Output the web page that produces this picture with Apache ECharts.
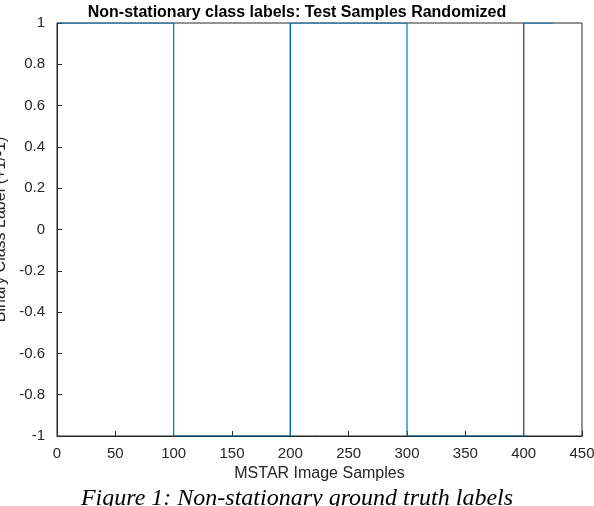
<!DOCTYPE html>
<html><head><meta charset="utf-8">
<script src="https://cdn.jsdelivr.net/npm/echarts@6/dist/echarts.min.js"></script>
<style>html,body{margin:0;background:#fff}#c{width:594px;height:506px}</style>
</head><body><div id="c"></div>
<script>
// square-wave label sequence (sample index, label)
var labelPoints = [[0, 1], [100, 1], [100, -1], [200, -1], [200, 1], [300, 1], [300, -1], [400, -1], [400, 1], [425, 1]];
var blackEdges = [[200, -1], [200, 1], null, [400, -1], [400, 1]];
var xTicks = [0, 50, 100, 150, 200, 250, 300, 350, 400, 450];
var yTicks = [-1, -0.8, -0.6, -0.4, -0.2, 0, 0.2, 0.4, 0.6, 0.8, 1];

var chart = echarts.init(document.getElementById('c'));
var axisText = { color: '#262626', fontSize: 15, fontFamily: 'Liberation Sans' };
chart.setOption({
  animation: false,
  title: {
    text: 'Non-stationary class labels: Test Samples Randomized',
    left: 'center', top: 0,
    textStyle: { fontSize: 16, fontWeight: 'bold', color: '#000', fontFamily: 'Liberation Sans' }
  },
  grid: { left: 57, right: 12, top: 23, bottom: 70, containLabel: false, outerBoundsMode: 'none',
    show: true, borderColor: '#262626', borderWidth: 1 },
  xAxis: {
    type: 'value', min: 0, max: 450, interval: 50,
    name: 'MSTAR Image Samples', nameLocation: 'middle', nameGap: 30,
    nameTextStyle: { fontSize: 16, color: '#262626', fontFamily: 'Liberation Sans' },
    axisLine: { show: true, onZero: false, lineStyle: { color: '#262626' } },
    axisTick: { inside: true, length: 5, lineStyle: { color: '#262626' } },
    axisLabel: Object.assign({ margin: 10 }, axisText),
    splitLine: { show: false }
  },
  yAxis: {
    type: 'value', min: -1, max: 1, interval: 0.2,
    name: 'Binary Class Label (+1/-1)', nameLocation: 'middle', nameGap: 40,
    nameTextStyle: { fontSize: 16, color: '#262626', fontFamily: 'Liberation Sans' },
    axisLine: { show: true, onZero: false, lineStyle: { color: '#262626' } },
    axisTick: { inside: true, length: 5, lineStyle: { color: '#262626' } },
    axisLabel: Object.assign({ margin: 12, formatter: function (v) { return String(Math.round(v * 10) / 10); } }, axisText),
    splitLine: { show: false }
  },
  series: [
    { type: 'line', data: blackEdges, showSymbol: false, connectNulls: false,
      lineStyle: { color: '#000', width: 1 }, z: 1 },
    { type: 'line', data: labelPoints, showSymbol: false,
      lineStyle: { color: '#0072BD', width: 1.2 }, z: 2 }
  ],
  graphic: [{
    type: 'text', left: 'center', top: 487,
    style: { text: 'Figure 1: Non-stationary ground truth labels', fontSize: 24, fontStyle: 'italic',
      fontFamily: 'Liberation Serif', fill: '#000' }
  }]
});
</script></body></html>
